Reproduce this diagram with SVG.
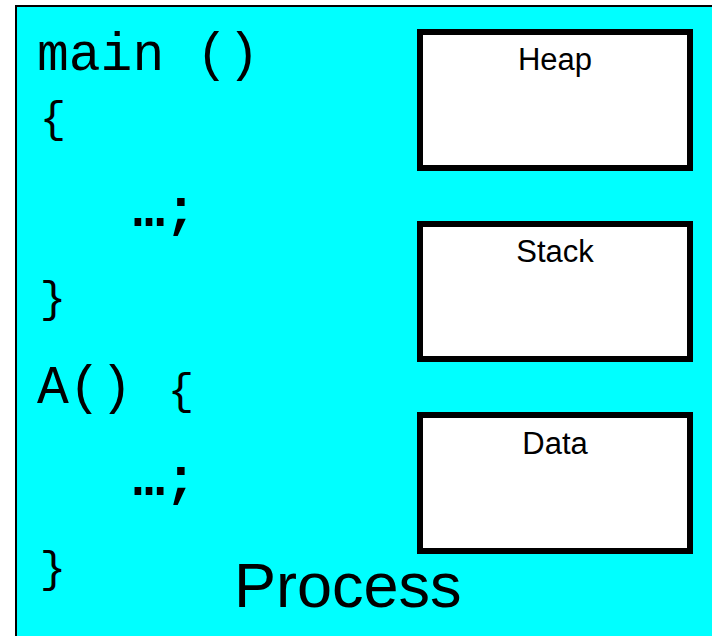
<svg xmlns="http://www.w3.org/2000/svg" width="712" height="636" viewBox="0 0 712 636">
  <style>
    .code { font-family: "Liberation Mono", "Courier New", monospace; font-size: 53px; fill: #000; white-space: pre; }
    .brace { font-family: "Liberation Mono", "Courier New", monospace; font-size: 44px; fill: #000; text-anchor: middle; }
    .dots { font-weight: bold; }
    .seg { fill: #fff; stroke: #000; stroke-width: 6; }
    .seglabel { font-family: "Liberation Sans", Arial, sans-serif; font-size: 31px; fill: #000; text-anchor: middle; }
    .title { font-family: "Liberation Sans", Arial, sans-serif; font-size: 63px; fill: #000; }
  </style>
  <rect width="712" height="636" fill="#fff"/>
  <!-- process frame -->
  <g id="process">
    <rect x="16" y="6" width="720" height="650" fill="#00ffff" stroke="#000" stroke-width="2"/>
    <text class="title" x="234" y="607">Process</text>
  </g>
  <!-- program text -->
  <g id="code">
    <text class="code" x="37" y="70" xml:space="preserve">main ()</text>
    <text class="brace" x="53" y="132">{</text>
    <text class="code dots" x="133" y="226">…;</text>
    <text class="brace" x="53" y="312">}</text>
    <text class="code" x="37" y="403">A()</text>
    <text class="brace" x="181" y="404">{</text>
    <text class="code dots" x="133" y="495">…;</text>
    <text class="brace" x="53" y="582">}</text>
  </g>
  <!-- memory segments -->
  <g id="heap">
    <rect class="seg" x="420" y="32" width="270" height="136"/>
    <text class="seglabel" x="555" y="70">Heap</text>
  </g>
  <g id="stack">
    <rect class="seg" x="420" y="224" width="270" height="135"/>
    <text class="seglabel" x="555" y="262">Stack</text>
  </g>
  <g id="data">
    <rect class="seg" x="420" y="415" width="270" height="136"/>
    <text class="seglabel" x="555" y="454">Data</text>
  </g>
  <g id="connectors"/>
</svg>
